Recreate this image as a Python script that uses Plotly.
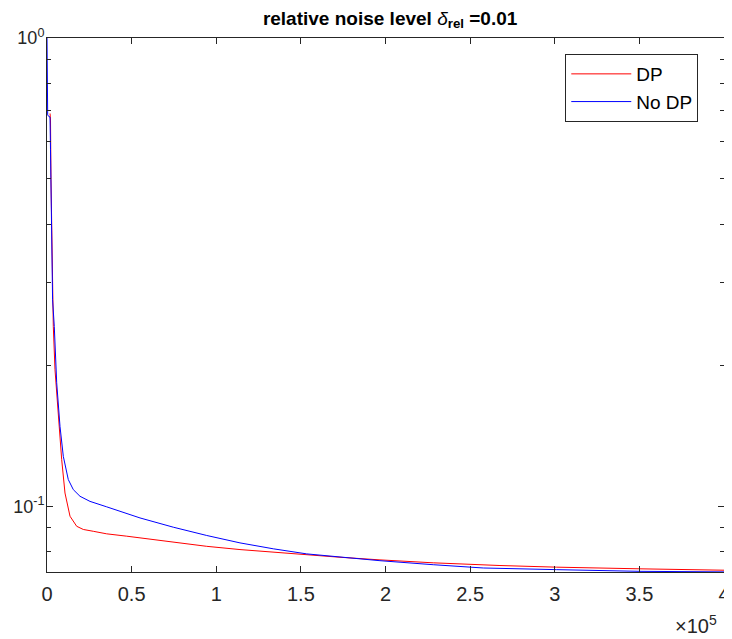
import plotly.graph_objects as go

# values (x = iterations, y = relative error)
dp_x = [1800, 2070, 2360, 2950, 3720, 4730, 6680, 8680, 10630, 13590, 17550,
        21450, 27350, 35270, 47090, 54940, 74620, 94350, 114020, 133700,
        153430, 173100, 196740, 228230, 267630, 301140, 350340, 400000]
dp_y = [0.690, 0.668, 0.498, 0.336, 0.242, 0.1956, 0.1555, 0.1257, 0.1067,
        0.0952, 0.0906, 0.0892, 0.0884, 0.0873, 0.0863, 0.0856, 0.0838,
        0.0821, 0.0808, 0.0797, 0.0788, 0.0778, 0.0768, 0.0757, 0.0747,
        0.0741, 0.0735, 0.0730]

nodp_x = [0, 400, 1000, 1770, 2070, 2360, 2660, 2950, 3300, 4310, 5730, 7680,
          9630, 12580, 15540, 19500, 25400, 35270, 45080, 54940, 74620, 94350,
          114020, 133700, 153430, 173100, 196740, 228230, 257770, 301140,
          350340, 400000]
nodp_y = [1.0, 0.685, 0.680, 0.678, 0.577, 0.498, 0.389, 0.304, 0.276, 0.242,
          0.1835, 0.148, 0.1278, 0.114, 0.1085, 0.105, 0.1024, 0.0997, 0.0972,
          0.0944, 0.0902, 0.0866, 0.0835, 0.0811, 0.0791, 0.0778, 0.0765,
          0.0750, 0.0738, 0.0732, 0.0726, 0.0724]

x_ticks = [0, 50000, 100000, 150000, 200000, 250000, 300000, 350000, 400000]
x_ticktext = ['0', '0.5', '1', '1.5', '2', '2.5', '3', '3.5', '4']
y_ticks = [0.1, 1]
y_ticktext = ['10<sup>-1</sup>', '10<sup>0</sup>']
y_minor = [0.08, 0.09, 0.2, 0.3, 0.4, 0.5, 0.6, 0.7, 0.8, 0.9]

AX = '#262626'
FONT = 'Liberation Sans, Arial, sans-serif'

# the page body has an 8px margin, so the figure is shifted by 8px;
# margins below are chosen so the plot area lands where the reference has it
fig = go.Figure()
fig.add_trace(go.Scatter(x=dp_x, y=dp_y, mode='lines', name='DP',
                         line=dict(color='#ff0000', width=1)))
fig.add_trace(go.Scatter(x=nodp_x, y=nodp_y, mode='lines', name='No DP',
                         line=dict(color='#0000ff', width=1)))

fig.update_layout(
    width=732, height=639,
    margin=dict(l=39, r=16, t=30, b=75),
    paper_bgcolor='white', plot_bgcolor='white',
    font=dict(family=FONT, size=20, color=AX),
    title=dict(text='<b>relative noise level </b><i>δ</i><b><sub>rel</sub> =0.01</b>',
               x=0.522, xanchor='center', y=0.995, yanchor='top', pad=dict(t=0),
               font=dict(family=FONT, size=19, color='black'),
               automargin=False),
    showlegend=True,
    legend=dict(x=0.962, y=0.97, xanchor='right', yanchor='top',
                bgcolor='white', bordercolor=AX, borderwidth=1,
                font=dict(size=19, color='black'), itemwidth=60,
                tracegroupgap=0),
    xaxis=dict(range=[0, 400000], tickmode='array', tickvals=x_ticks,
               ticktext=x_ticktext, ticks='inside', ticklen=6, tickcolor=AX,
               ticklabelstandoff=4,
               showline=True, linecolor=AX, linewidth=1, mirror='ticks',
               showgrid=False, zeroline=False, automargin=False),
    yaxis=dict(type='log', range=[-1.1405, 0], tickmode='array',
               tickvals=y_ticks, ticktext=y_ticktext, ticks='inside',
               ticklen=6, tickcolor=AX, ticklabelstandoff=-2,
               tickfont=dict(size=18),
               minor=dict(tickmode='array', tickvals=y_minor, ticks='inside',
                          ticklen=4, tickcolor=AX),
               showline=True, linecolor=AX, linewidth=1, mirror='ticks',
               showgrid=False, zeroline=False, automargin=False),
)

fig.add_annotation(text='×10<sup>5</sup>', xref='paper', yref='paper',
                   x=0.993, y=-0.072, xanchor='right', yanchor='top',
                   showarrow=False, font=dict(size=20, color=AX))

fig.write_html('out.html')
